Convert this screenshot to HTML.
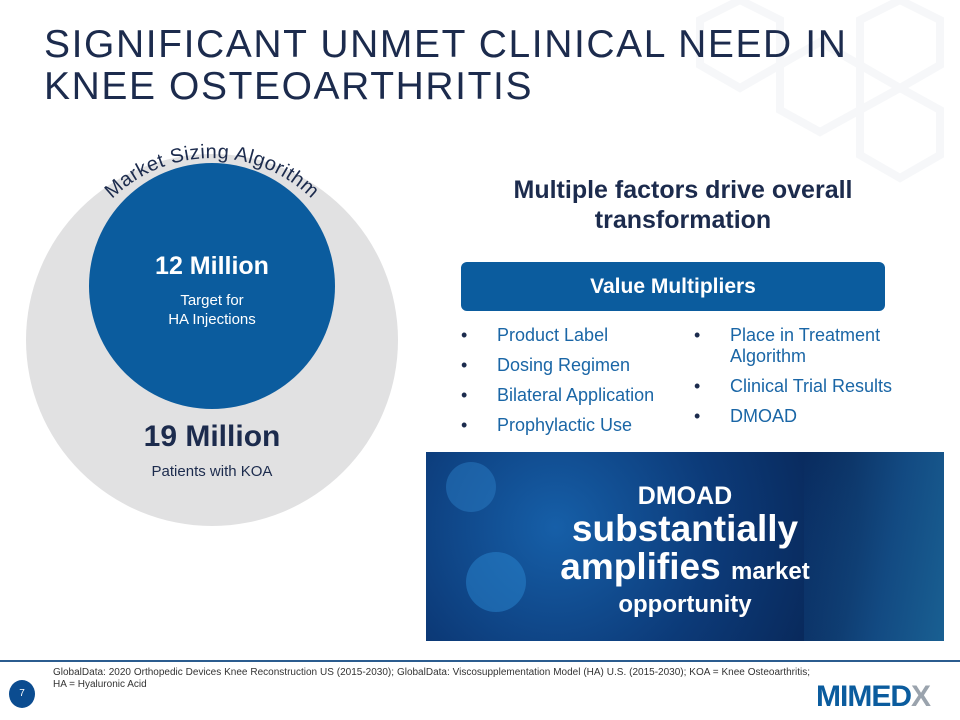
<!DOCTYPE html>
<html><head><meta charset="utf-8"><style>
body{margin:0;width:960px;height:720px;overflow:hidden;background:#fff;font-family:"Liberation Sans",sans-serif;position:relative}
.abs{position:absolute}
h1{position:absolute;left:44px;top:24px;margin:0;font-weight:normal;font-size:39px;line-height:42px;letter-spacing:1.6px;color:#1c2b4d}
.bul{font-size:18px;color:#1a66a6;line-height:21px}
.bul div{position:relative;padding-left:36px;margin-bottom:9px}
.bul div:before{content:"•";position:absolute;left:0;color:#1c2b4d}
</style></head><body>
<svg class="abs" style="left:560px;top:0" width="400" height="260">
<g fill="none" stroke="#f6f7f9" stroke-width="8" transform="translate(-560,0)">
<polygon points="700,20 740,0 780,20 780,65 740,88 700,65"/>
<polygon points="780,65 820,42 860,65 860,110 820,132 780,110"/>
<polygon points="860,20 900,0 940,20 940,65 900,88 860,65"/>
<polygon points="860,110 900,88 940,110 940,155 900,178 860,155"/>
</g></svg>
<h1>SIGNIFICANT UNMET CLINICAL NEED IN<br>KNEE OSTEOARTHRITIS</h1>
<svg class="abs" style="left:0;top:120px" width="420" height="420">
<circle cx="212" cy="220" r="186" fill="#e1e1e2"/>
<circle cx="212" cy="166" r="123" fill="#0b5c9e"/>
<defs><path id="arc" d="M 70 180 A 142 142 0 0 1 354 180"/></defs>
<text font-size="20" fill="#1c2b4d" letter-spacing="0.5"><textPath href="#arc" startOffset="50%" text-anchor="middle">Market Sizing Algorithm</textPath></text>
<text x="212" y="154" text-anchor="middle" font-size="25" font-weight="bold" fill="#fff">12 Million</text>
<text x="212" y="185" text-anchor="middle" font-size="15" fill="#fff">Target for</text>
<text x="212" y="204" text-anchor="middle" font-size="15" fill="#fff">HA Injections</text>
<text x="212" y="326" text-anchor="middle" font-size="30" font-weight="bold" fill="#1c2b4d">19 Million</text>
<text x="212" y="356" text-anchor="middle" font-size="15" fill="#1c2b4d">Patients with KOA</text>
</svg>
<div class="abs" style="left:470px;top:175px;width:426px;text-align:center;font-size:25px;font-weight:bold;color:#1c2b4d;line-height:30px">Multiple factors drive overall transformation</div>
<div class="abs" style="left:461px;top:262px;width:424px;height:49px;background:#0b5c9e;border-radius:6px;color:#fff;font-weight:bold;font-size:21px;text-align:center;line-height:49px">Value Multipliers</div>
<div class="abs bul" style="left:461px;top:325px">
<div>Product Label</div><div>Dosing Regimen</div><div>Bilateral Application</div><div>Prophylactic Use</div></div>
<div class="abs bul" style="left:694px;top:325px;width:230px">
<div>Place in Treatment Algorithm</div><div>Clinical Trial Results</div><div>DMOAD</div></div>
<div class="abs" style="left:426px;top:452px;width:518px;height:189px;background:radial-gradient(circle at 25% 40%,#165fa8 0,#0c3a78 40%,#082554 75%),#0a2f66;overflow:hidden;text-align:center;color:#fff;font-weight:bold">
<div style="position:absolute;left:20px;top:10px;width:50px;height:50px;border-radius:50%;background:#2a7cc4;opacity:.5"></div>
<div style="position:absolute;left:40px;top:100px;width:60px;height:60px;border-radius:50%;background:#2a86d0;opacity:.5"></div>
<div style="position:absolute;right:0;top:0;width:140px;height:189px;background:linear-gradient(100deg,transparent,#1d6fb0 60%,#2a9ad0);opacity:.5"></div>
<div style="position:relative;margin-top:30px;font-size:25px;line-height:28px">DMOAD</div>
<div style="position:relative;font-size:37px;line-height:38px">substantially</div>
<div style="position:relative;font-size:37px;line-height:38px">amplifies <span style="font-size:24px">market</span></div>
<div style="position:relative;font-size:24px;line-height:28px">opportunity</div>
</div>
<div class="abs" style="left:0;top:660px;width:960px;height:2px;background:#2b5c8f"></div>
<div class="abs" style="left:53px;top:667px;width:757px;font-size:10px;line-height:12px;color:#333;text-align:justify">GlobalData: 2020 Orthopedic Devices Knee Reconstruction US (2015-2030); GlobalData: Viscosupplementation Model (HA) U.S. (2015-2030); KOA = Knee Osteoarthritis; HA = Hyaluronic Acid</div>
<div class="abs" style="left:9px;top:680px;width:26px;height:28px;border-radius:50%;background:#0b4c90;color:#fff;font-size:10px;text-align:center;line-height:28px">7</div>
<div class="abs" style="left:816px;top:680px;font-size:30px;font-weight:bold;color:#0b5c9e;letter-spacing:-1px">MIMED<span style="color:#9aa3ad">X</span></div>
</body></html>
